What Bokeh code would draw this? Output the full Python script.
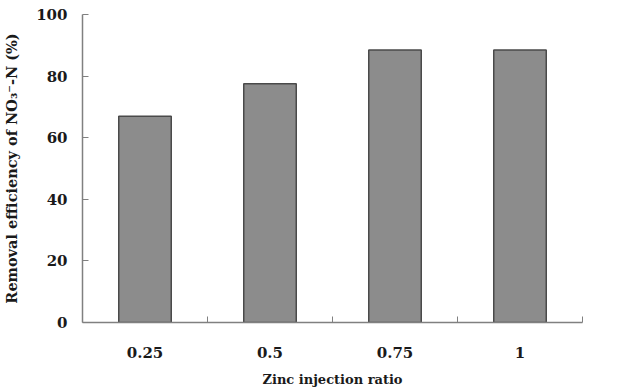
from bokeh.plotting import figure
from bokeh.models import Range1d, FixedTicker, ColumnDataSource
from bokeh.embed import file_html
from bokeh.resources import INLINE

categories = ["0.25", "0.5", "0.75", "1"]
removal = [67.0, 77.5, 88.5, 88.5]
y_ticks = [0, 20, 40, 60, 80, 100]

xpos = [i + 0.5 for i in range(len(categories))]
src = ColumnDataSource(dict(x=xpos, top=removal))

p = figure(width=625, height=392, output_backend="svg", toolbar_location=None,
           x_range=Range1d(0, len(categories)), y_range=Range1d(0, 100),
           min_border_left=81, min_border_right=43, min_border_top=14, min_border_bottom=70)
p.outline_line_color = None
p.xgrid.visible = False
p.ygrid.visible = False
p.background_fill_color = "white"

p.vbar(x="x", top="top", width=0.42, source=src, fill_color="#8c8c8c",
       line_color="#4a4a4a", line_width=1.5)

font = "DejaVu Serif"
xa = p.xaxis[0]
xa.ticker = FixedTicker(ticks=xpos, minor_ticks=[1, 2, 3, 4])
xa.major_label_overrides = {x: c for x, c in zip(xpos, categories)}
xa.major_tick_line_color = None
xa.minor_tick_in = 6
xa.minor_tick_out = 0
xa.minor_tick_line_color = "#808080"
xa.axis_line_color = "#808080"
xa.axis_line_width = 1.5
xa.major_label_standoff = 18
xa.axis_label = "Zinc injection ratio"
xa.axis_label_standoff = 11

ya = p.yaxis[0]
ya.ticker = FixedTicker(ticks=y_ticks)
ya.major_tick_in = 6
ya.major_tick_out = 0
ya.minor_tick_line_color = None
ya.major_tick_line_color = "#808080"
ya.axis_line_color = "#808080"
ya.axis_line_width = 1.5
ya.major_label_standoff = 15
ya.axis_label = "Removal efficiency of NO\u2083\u207b-N (%)"
ya.axis_label_standoff = 13

for ax in (xa, ya):
    ax.major_label_text_font = font
    ax.major_label_text_font_style = "bold"
    ax.major_label_text_font_size = "15px"
    ax.major_label_text_color = "#1a1a1a"
    ax.axis_label_text_font = font
    ax.axis_label_text_font_style = "bold"
    ax.axis_label_text_color = "#1a1a1a"
xa.axis_label_text_font_size = "13px"
ya.axis_label_text_font_size = "14.5px"

open("out.html", "w").write(file_html(p, INLINE))
